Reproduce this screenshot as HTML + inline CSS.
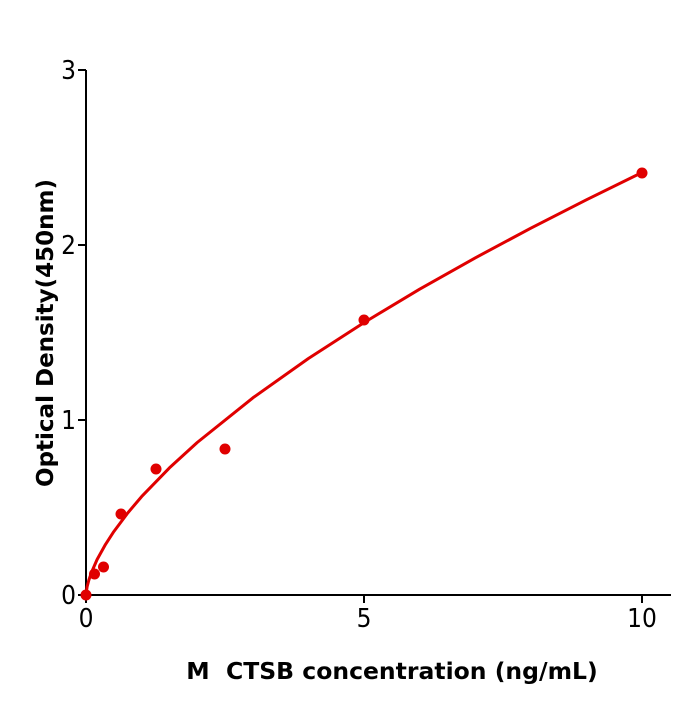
<!DOCTYPE html>
<html><head><style>body{margin:0;background:#fff}</style></head><body>
<svg width="700" height="700" xmlns="http://www.w3.org/2000/svg" font-family="DejaVu Sans, Liberation Sans, sans-serif">
<rect width="700" height="700" fill="#fff"/>
<g stroke="#000" stroke-width="2" fill="none">
<line x1="86" y1="70" x2="86" y2="596"/>
<line x1="85" y1="595" x2="671" y2="595"/>
<line x1="78" y1="70" x2="86" y2="70"/>
<line x1="78" y1="245" x2="86" y2="245"/>
<line x1="78" y1="420" x2="86" y2="420"/>
<line x1="78" y1="595" x2="86" y2="595"/>
<line x1="86" y1="595" x2="86" y2="603"/>
<line x1="364" y1="595" x2="364" y2="603"/>
<line x1="642" y1="595" x2="642" y2="603"/>
</g>
<g font-size="26" fill="#000" text-anchor="end">
<text transform="translate(76,79) scale(0.9,1)">3</text>
<text transform="translate(76,254) scale(0.9,1)">2</text>
<text transform="translate(76,429) scale(0.9,1)">1</text>
<text transform="translate(76,604) scale(0.9,1)">0</text>
</g>
<g font-size="26" fill="#000" text-anchor="middle">
<text transform="translate(86,627) scale(0.9,1)">0</text>
<text transform="translate(364,627) scale(0.9,1)">5</text>
<text transform="translate(642,627) scale(0.9,1)">10</text>
</g>
<text x="392" y="679" font-size="23.5" font-weight="bold" text-anchor="middle">M&#160; CTSB concentration (ng/mL)</text>
<text transform="translate(53,333) rotate(-90)" font-size="23" font-weight="bold" text-anchor="middle">Optical Density(450nm)</text>
<polyline fill="none" stroke="#e00000" stroke-width="3" stroke-linejoin="round" points="86,595 87.1,586.7 88.8,580.2 91.6,572.1 97.1,559.5 105.5,544.4 113.8,531.6 127.7,513 141.6,496.6 169.4,467.9 197.2,442.5 252.8,397.9 308.4,358.5 364,322.6 419.6,289.2 475.2,257.9 530.8,228.2 586.4,199.8 642,172.5"/>
<g fill="#e00000">
<circle cx="86" cy="595" r="5.5"/><circle cx="94.5" cy="574" r="5.5"/><circle cx="103.5" cy="567" r="5.5"/>
<circle cx="121" cy="514" r="5.5"/><circle cx="156" cy="469" r="5.5"/><circle cx="225" cy="449" r="5.5"/>
<circle cx="364" cy="320" r="5.5"/><circle cx="642" cy="173" r="5.5"/>
</g>
</svg>
</body></html>
